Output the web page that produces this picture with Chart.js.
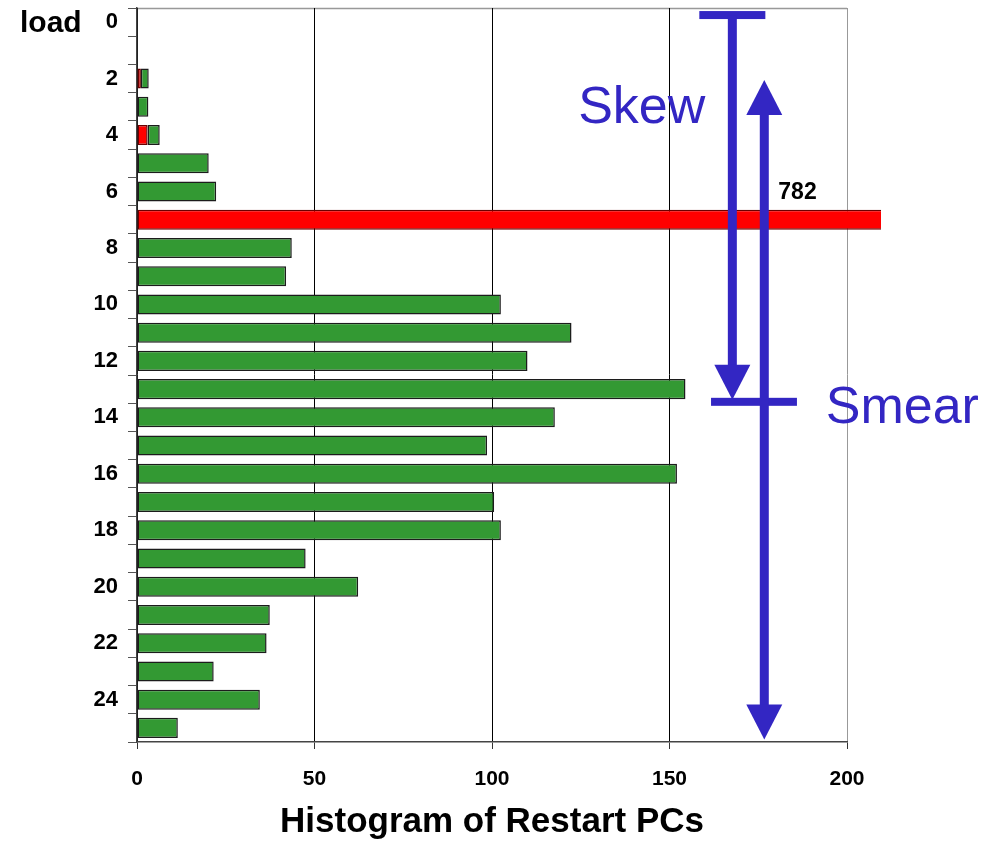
<!DOCTYPE html>
<html>
<head>
<meta charset="utf-8">
<script src="https://cdn.jsdelivr.net/npm/chart.js@4.4.1/dist/chart.umd.min.js"></script>
<style>
  html, body { margin: 0; padding: 0; background: #fff; }
  #wrap { width: 1001px; height: 843px; }
</style>
</head>
<body>
<div id="wrap"><canvas id="c" width="1001" height="843"></canvas></div>
<script>
// ---- data ----
const loads = ['0','1','2','3','4','5','6','7','8','9','10','11','12','13','14','15','16','17','18','19','20','21','22','23','24','25'];
const redCounts = [null,null,1.1,null,3.0,null,null,782,null,null,null,null,null,null,null,null,null,null,null,null,null,null,null,null,null,null];
const greenCounts = [null,null,2.2,3.2,3.4,20.2,22.3,null,43.6,42.0,102.5,122.4,110.0,154.5,117.7,98.6,152.1,100.6,102.5,47.5,62.3,37.4,36.5,21.6,34.6,11.5];
const xTicksMax = 200;
const xTickStep = 50;
const axisTitle = 'Histogram of Restart PCs';
const yTitle = 'load';

// annotation anchors (in data units of the chart's scales)
const skew = { x: 167.7, top: -0.25, tip: 13.38, halfBar: 9.3, label: 'Skew', labelBase: 3.57 };
const smear = { x: 176.7, topTip: 2.05, bottomTip: 25.41, barY: 13.45, barL: 161.7, barR: 185.9, label: 'Smear', labelBase: 14.19 };

const BLUE = '#3326C3';
const FONT = "'Liberation Sans', Arial, Helvetica, sans-serif";

const annot = {
  id: 'annot',
  beforeDraw(chart) {
    const { ctx, chartArea: a } = chart;
    ctx.save();
    ctx.strokeStyle = '#999';
    ctx.lineWidth = 1.5;
    ctx.beginPath();
    ctx.moveTo(a.left, a.top + 0.5);
    ctx.lineTo(a.right, a.top + 0.5);
    ctx.stroke();
    ctx.restore();
  },
  afterDatasetsDraw(chart) {
    const { ctx, chartArea: a, scales: { x, y } } = chart;
    ctx.save();
    // "load" label
    ctx.fillStyle = '#000';
    ctx.font = 'bold 30px ' + FONT;
    ctx.textAlign = 'left';
    ctx.textBaseline = 'middle';
    ctx.fillText(yTitle, 20, 24);

    // value label for the clipped bar
    const meta = chart.getDatasetMeta(0);
    redCounts.forEach((v, i) => {
      if (v !== null && v > xTicksMax) {
        const el = meta.data[i];
        ctx.font = 'bold 23px ' + FONT;
        ctx.textAlign = 'center';
        ctx.textBaseline = 'middle';
        ctx.fillStyle = '#000';
        ctx.fillText(String(v), a.right - 49.5, el.y - 27);
      }
    });

    ctx.fillStyle = BLUE;
    const head = 35, headW = 18, lw = 9;
    // Skew arrow
    const sx = x.getPixelForValue(skew.x);
    const sTop = y.getPixelForValue(skew.top);
    const sTip = y.getPixelForValue(skew.tip);
    const sHalf = x.getPixelForValue(skew.x + skew.halfBar) - sx;
    ctx.fillRect(sx - sHalf, sTop - 4, sHalf * 2, 8);
    ctx.fillRect(sx - lw / 2, sTop, lw, sTip - head - sTop + 1);
    ctx.beginPath();
    ctx.moveTo(sx - headW, sTip - head);
    ctx.lineTo(sx + headW, sTip - head);
    ctx.lineTo(sx, sTip);
    ctx.closePath();
    ctx.fill();

    // Smear arrow
    const mx = x.getPixelForValue(smear.x);
    const mTop = y.getPixelForValue(smear.topTip);
    const mBot = y.getPixelForValue(smear.bottomTip);
    const mBarY = y.getPixelForValue(smear.barY);
    const mL = x.getPixelForValue(smear.barL), mR = x.getPixelForValue(smear.barR);
    ctx.fillRect(mL, mBarY - 4, mR - mL, 8);
    ctx.fillRect(mx - lw / 2, mTop + head - 1, lw, (mBot - head) - (mTop + head) + 2);
    ctx.beginPath();
    ctx.moveTo(mx - headW, mTop + head);
    ctx.lineTo(mx + headW, mTop + head);
    ctx.lineTo(mx, mTop);
    ctx.closePath();
    ctx.fill();
    ctx.beginPath();
    ctx.moveTo(mx - headW, mBot - head);
    ctx.lineTo(mx + headW, mBot - head);
    ctx.lineTo(mx, mBot);
    ctx.closePath();
    ctx.fill();

    // labels
    ctx.font = '52px ' + FONT;
    ctx.textBaseline = 'alphabetic';
    ctx.textAlign = 'right';
    ctx.fillText(skew.label, sx - 27, y.getPixelForValue(skew.labelBase));
    ctx.textAlign = 'left';
    ctx.fillText(smear.label, mx + 61.5, y.getPixelForValue(smear.labelBase));
    ctx.restore();
  }
};

new Chart(document.getElementById('c'), {
  type: 'bar',
  data: {
    labels: loads,
    datasets: [
      {
        label: 'red',
        data: redCounts,
        backgroundColor: '#FF0000',
        borderColor: '#6a0000',
        borderWidth: 1.5,
        borderSkipped: false,
        barPercentage: 0.71,
        categoryPercentage: 1.0,
        clip: { left: 5, top: 5, right: 34, bottom: 5 }
      },
      {
        label: 'green',
        data: greenCounts,
        backgroundColor: '#339933',
        borderColor: '#1c1c1c',
        borderWidth: 1.5,
        borderSkipped: false,
        barPercentage: 0.71,
        categoryPercentage: 1.0
      }
    ]
  },
  options: {
    indexAxis: 'y',
    responsive: false,
    animation: false,
    devicePixelRatio: 1,
    layout: { padding: { top: 8, right: 154, left: 0, bottom: 0 } },
    plugins: {
      legend: { display: false },
      tooltip: { enabled: false },
      title: { display: false }
    },
    scales: {
      x: {
        stacked: true,
        min: 0,
        max: xTicksMax,
        afterFit(s) { s.height = 101; },
        ticks: {
          stepSize: xTickStep,
          color: '#000',
          padding: 18,
          font: { family: FONT, size: 21, weight: 'bold' }
        },
        grid: {
          color: (c) => (c.tick && c.tick.value === xTicksMax) ? '#999' : '#000',
          lineWidth: 1,
          tickLength: 7,
          tickColor: '#333'
        },
        border: { color: '#444', width: 1.5 },
        title: {
          display: true,
          text: axisTitle,
          color: '#000',
          font: { family: FONT, size: 35, weight: 'bold', lineHeight: 1.2 },
          padding: { top: 0, bottom: 0 }
        }
      },
      y: {
        stacked: true,
        afterFit(s) { s.width = 137; s.paddingTop = 0; s.paddingBottom = 0; },
        ticks: {
          autoSkip: false,
          color: '#000',
          padding: 10,
          font: { family: FONT, size: 22, weight: 'bold' },
          callback: (v, i) => (i % 2 === 0 ? loads[i] : '')
        },
        grid: {
          offset: true,
          drawOnChartArea: false,
          drawTicks: true,
          tickLength: 9,
          color: '#555'
        },
        border: { color: '#444', width: 1.5 }
      }
    }
  },
  plugins: [annot]
});
</script>
</body>
</html>
